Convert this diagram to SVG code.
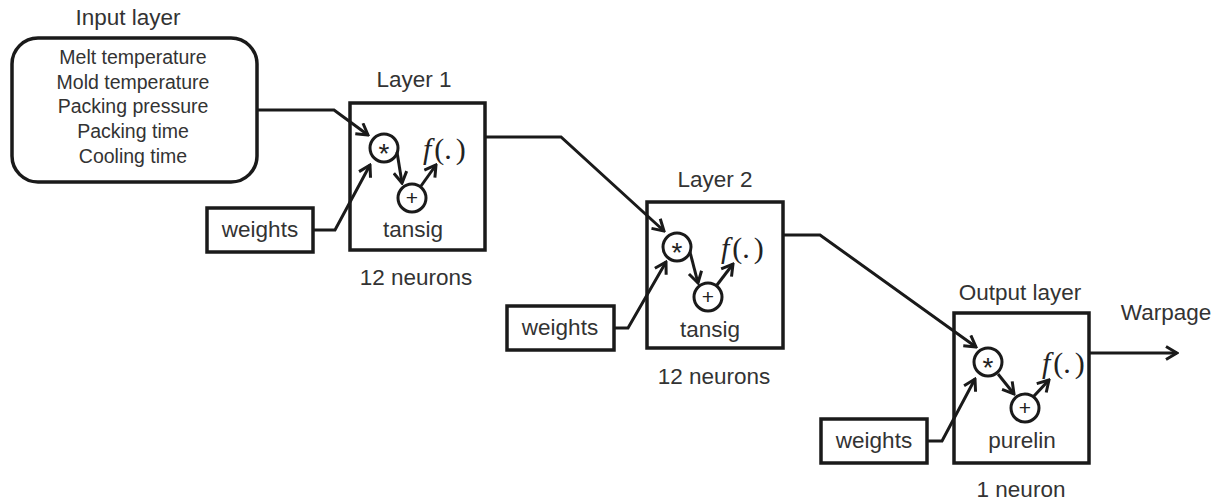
<svg xmlns="http://www.w3.org/2000/svg" width="1218" height="501" viewBox="0 0 1218 501">
<defs>
<marker id="ah" markerUnits="userSpaceOnUse" markerWidth="16" markerHeight="16" viewBox="0 0 16 16" refX="14" refY="8" orient="auto">
<path d="M3,1.5 L14,8 L3,14.5" fill="none" stroke="#1a1a1a" stroke-width="3" stroke-linejoin="miter"/>
</marker>
<style>
.box{fill:#fff;stroke:#1a1a1a;stroke-width:3.5}
.cir{fill:#fff;stroke:#1a1a1a;stroke-width:3}
.ln{fill:none;stroke:#1a1a1a;stroke-width:3;stroke-linejoin:miter}
.ar{marker-end:url(#ah)}
.t{font-family:"Liberation Sans",Arial,sans-serif;fill:#333;text-anchor:middle}
.lbl{font-size:22.5px}
.lst{font-size:19.5px}
.sym{font-family:"Liberation Sans",Arial,sans-serif;fill:#222;text-anchor:middle;font-size:21px}
.ast{font-family:"Liberation Sans",Arial,sans-serif;fill:#222;text-anchor:middle;font-size:28px}
.fx{font-family:"Liberation Serif","Times New Roman",serif;fill:#222;font-size:30px}
</style>
</defs>

<g id="input-layer">
<text class="t lbl" x="128" y="25">Input layer</text>
<rect class="box" x="12" y="38" width="245" height="144" rx="26" ry="26"/>
<text class="t lst" x="133" y="64">Melt temperature</text>
<text class="t lst" x="133" y="89">Mold temperature</text>
<text class="t lst" x="133" y="113">Packing pressure</text>
<text class="t lst" x="133" y="138">Packing time</text>
<text class="t lst" x="133" y="163">Cooling time</text>
</g>

<g id="layer1">
<text class="t lbl" x="414" y="87">Layer 1</text>
<rect class="box" x="350" y="103" width="135" height="147"/>
<circle class="cir" cx="384" cy="148" r="14"/>
<text class="ast" x="384" y="163">*</text>
<circle class="cir" cx="412" cy="198" r="14"/>
<text class="sym" x="412" y="205">+</text>
<text class="fx" x="423" y="159"><tspan font-style="italic">f</tspan><tspan dx="3">(.</tspan><tspan dx="4">)</tspan></text>
<text class="t lbl" x="413" y="237">tansig</text>
<text class="t lbl" x="416" y="285">12 neurons</text>
</g>

<g id="weights1">
<rect class="box" x="207" y="208" width="106" height="44"/>
<text class="t lbl" x="260" y="237">weights</text>
</g>

<g id="layer2">
<text class="t lbl" x="715" y="187">Layer 2</text>
<rect class="box" x="647" y="202" width="136" height="146"/>
<circle class="cir" cx="677" cy="247" r="14"/>
<text class="ast" x="677" y="262">*</text>
<circle class="cir" cx="708" cy="297" r="14"/>
<text class="sym" x="708" y="304">+</text>
<text class="fx" x="721" y="258"><tspan font-style="italic">f</tspan><tspan dx="3">(.</tspan><tspan dx="4">)</tspan></text>
<text class="t lbl" x="710" y="337">tansig</text>
<text class="t lbl" x="714" y="384">12 neurons</text>
</g>

<g id="weights2">
<rect class="box" x="507" y="306" width="107" height="44"/>
<text class="t lbl" x="560" y="335">weights</text>
</g>

<g id="output-layer">
<text class="t lbl" x="1020" y="300">Output layer</text>
<rect class="box" x="954" y="313" width="135" height="150"/>
<circle class="cir" cx="988" cy="362" r="14"/>
<text class="ast" x="988" y="377">*</text>
<circle class="cir" cx="1025" cy="408" r="14"/>
<text class="sym" x="1025" y="415">+</text>
<text class="fx" x="1042" y="373"><tspan font-style="italic">f</tspan><tspan dx="3">(.</tspan><tspan dx="4">)</tspan></text>
<text class="t lbl" x="1022" y="448">purelin</text>
<text class="t lbl" x="1021" y="497">1 neuron</text>
</g>

<g id="weights3">
<rect class="box" x="821" y="419" width="106" height="44"/>
<text class="t lbl" x="874" y="448">weights</text>
</g>

<g id="warpage">
<text class="t lbl" x="1166" y="320">Warpage</text>
</g>

<g id="connectors">
<path class="ln ar" d="M257,110 L334,110 L368,135"/>
<path class="ln ar" d="M313,230 L335,230 L370,165"/>
<path class="ln ar" d="M397,152 L402,183"/>
<path class="ln ar" d="M421,186 L436,165"/>
<path class="ln ar" d="M485,137 L561,137 L664,231"/>
<path class="ln ar" d="M614,328 L628,328 L666,262"/>
<path class="ln ar" d="M690,252 L698,283"/>
<path class="ln ar" d="M717,285 L733,264"/>
<path class="ln ar" d="M783,235 L820,235 L976,347"/>
<path class="ln ar" d="M927,441 L942,441 L975,379"/>
<path class="ln ar" d="M998,374 L1014,394"/>
<path class="ln ar" d="M1034,396 L1049,380"/>
<path class="ln ar" d="M1089,353 L1177,353"/>
</g>
</svg>
